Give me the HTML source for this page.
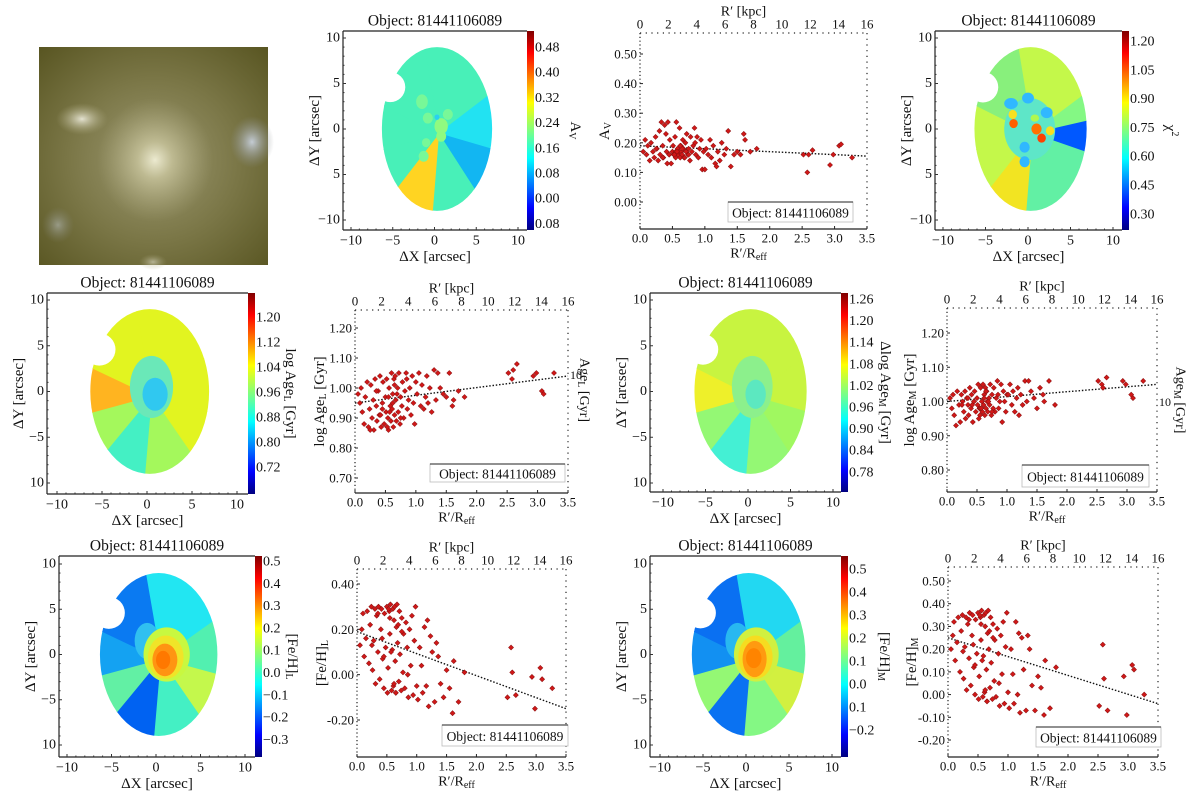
<!DOCTYPE html>
<html><head><meta charset="utf-8"><style>
html,body{margin:0;padding:0;background:#fff;overflow:hidden;}
svg{display:block;font-family:"Liberation Serif","DejaVu Serif",serif;}
</style></head><body>
<svg id="fig" width="1200" height="802" viewBox="0 0 1200 802" xmlns="http://www.w3.org/2000/svg">
<defs>
<linearGradient id="jet" x1="0" y1="1" x2="0" y2="0">
<stop offset="0" stop-color="#00007f"/><stop offset="0.11" stop-color="#0000ff"/><stop offset="0.36" stop-color="#00ffff"/><stop offset="0.5" stop-color="#80ff80"/><stop offset="0.64" stop-color="#ffff00"/><stop offset="0.89" stop-color="#ff0000"/><stop offset="1" stop-color="#7f0000"/>
</linearGradient>
<radialGradient id="galbase" cx="0.5" cy="0.52" r="0.75"><stop offset="0" stop-color="#9c9870"/><stop offset="0.5" stop-color="#7a7646"/><stop offset="1" stop-color="#55521e"/></radialGradient>
<radialGradient id="core" cx="0.5" cy="0.5" r="0.5"><stop offset="0" stop-color="#ecead0"/><stop offset="0.3" stop-color="#c8c49c" stop-opacity="0.8"/><stop offset="1" stop-color="#a8a47a" stop-opacity="0"/></radialGradient>
<radialGradient id="blobw" cx="0.5" cy="0.5" r="0.5"><stop offset="0" stop-color="#e4e2d0"/><stop offset="1" stop-color="#a8a47a" stop-opacity="0"/></radialGradient>
<radialGradient id="blobb" cx="0.5" cy="0.5" r="0.5"><stop offset="0" stop-color="#c4ccd4"/><stop offset="1" stop-color="#8c9090" stop-opacity="0"/></radialGradient>
</defs>
<g>
<rect x="39" y="47" width="229" height="218" fill="url(#galbase)"/>
<ellipse cx="155" cy="160" rx="58" ry="62" fill="url(#core)"/>
<ellipse cx="82" cy="119" rx="26" ry="16" fill="url(#blobw)"/>
<ellipse cx="252" cy="142" rx="22" ry="26" fill="url(#blobb)"/>
<ellipse cx="58" cy="225" rx="16" ry="18" fill="url(#blobb)" opacity="0.5"/>
<ellipse cx="153" cy="262" rx="14" ry="8" fill="url(#blobw)" opacity="0.6"/>
</g>
</svg>
<script>
// ---------- scatter data (shared radii R'/Reff) ----------
const RADII = [0.05,0.08,0.1,0.12,0.15,0.17,0.2,0.22,0.24,0.26,0.28,0.3,0.31,0.33,0.35,0.36,0.38,0.4,0.41,0.43,0.45,0.46,0.48,0.5,0.51,0.52,0.54,0.55,0.56,0.58,0.59,0.6,0.61,0.62,0.63,0.64,0.65,0.66,0.67,0.68,0.7,0.71,0.72,0.74,0.75,0.77,0.78,0.8,0.82,0.84,0.86,0.88,0.9,0.92,0.94,0.96,0.98,1.0,0.25,0.35,0.45,0.55,0.65,0.75,0.85,0.42,0.53,0.62,0.69,0.57,
1.02,1.05,1.08,1.1,1.13,1.16,1.18,1.2,1.23,1.26,1.3,1.33,1.36,1.4,1.45,1.5,1.55,1.6,1.62,1.7,1.8,
2.52,2.58,2.60,2.66,2.93,2.98,3.07,3.10,3.27];
const AV = [0.17,0.21,0.16,0.19,0.14,0.20,0.17,0.15,0.22,0.18,0.14,0.24,0.16,0.27,0.19,0.15,0.26,0.23,0.17,0.27,0.16,0.21,0.13,0.17,0.19,0.16,0.22,0.15,0.27,0.18,0.16,0.17,0.25,0.15,0.19,0.17,0.16,0.21,0.18,0.15,0.20,0.17,0.23,0.16,0.18,0.14,0.22,0.17,0.19,0.25,0.16,0.22,0.15,0.18,0.21,0.11,0.17,0.11,0.18,0.15,0.16,0.17,0.18,0.16,0.20,0.13,0.16,0.19,0.15,0.17,
0.18,0.16,0.21,0.15,0.19,0.13,0.12,0.17,0.14,0.20,0.16,0.18,0.24,0.12,0.16,0.17,0.16,0.23,0.21,0.17,0.18,
0.16,0.10,0.16,0.175,0.125,0.16,0.19,0.195,0.15];
const AGEL = [0.98,0.95,1.00,0.92,0.88,0.97,1.02,0.87,0.93,1.01,0.90,0.96,0.86,1.03,0.94,0.89,0.99,0.91,1.04,0.87,0.95,1.02,0.88,0.97,0.92,1.03,0.90,0.86,1.00,0.94,0.89,1.05,0.93,0.98,0.87,1.03,0.91,1.04,0.96,0.89,1.00,0.92,1.05,0.88,0.97,0.94,1.02,0.90,0.99,1.05,0.93,0.96,1.00,0.91,1.04,0.95,0.88,1.02,0.86,0.99,0.93,0.97,1.01,0.90,1.03,0.91,0.87,0.95,0.98,0.92,
0.98,1.05,0.94,1.01,0.93,0.97,1.04,0.95,1.00,0.92,1.06,0.96,1.05,1.00,0.98,0.97,1.05,0.94,0.96,0.99,0.97,
1.05,1.03,1.06,1.08,1.04,1.05,0.99,0.98,1.05];
const AGEM = [1.01,0.98,1.02,0.96,0.93,1.03,0.99,0.94,1.02,1.00,0.97,1.03,0.95,1.01,0.99,0.96,1.04,0.98,1.02,0.94,1.00,1.03,0.97,1.01,0.99,1.05,0.98,0.96,1.04,1.00,0.97,1.05,0.99,1.02,0.96,1.04,0.98,1.03,1.00,0.97,1.01,0.99,1.05,0.96,1.02,0.98,1.04,0.97,1.01,1.06,0.98,1.00,1.05,0.94,1.03,1.00,0.97,1.02,0.99,1.01,1.00,0.98,1.03,0.97,1.02,0.99,0.95,1.01,1.00,0.98,
1.02,1.05,0.99,1.03,0.97,1.01,1.04,0.96,1.02,0.99,1.06,1.00,1.06,1.03,1.01,0.98,1.04,1.02,1.00,1.06,0.99,
1.06,1.05,1.04,1.07,1.06,1.05,1.02,1.01,1.06];
const FEHL = [0.13,0.20,0.27,0.08,0.16,0.28,0.05,0.22,0.30,0.02,0.15,0.29,-0.04,0.26,0.10,0.30,-0.02,0.20,0.29,0.07,-0.06,0.27,0.12,0.30,-0.08,0.03,0.28,0.18,0.31,-0.07,0.11,0.29,-0.05,0.24,0.30,0.06,-0.08,0.21,0.31,0.14,-0.03,0.28,0.09,-0.07,0.25,0.01,0.18,-0.06,0.23,0.12,-0.10,0.20,0.04,0.26,-0.09,0.15,0.30,-0.05,0.13,0.27,0.08,0.25,-0.08,0.19,0.00,0.16,0.29,-0.04,0.22,0.10,
-0.11,0.12,0.04,-0.08,0.21,-0.05,0.24,-0.14,0.17,0.10,-0.12,0.14,0.08,-0.04,-0.10,0.02,-0.06,-0.17,0.06,-0.12,0.01,
-0.10,0.12,0.01,-0.09,-0.01,-0.15,0.03,-0.02,-0.06];
const FEHM = [0.20,0.26,0.32,0.15,0.23,0.34,0.10,0.28,0.35,0.07,0.21,0.34,0.02,0.31,0.16,0.36,0.04,0.26,0.35,0.12,0.00,0.33,0.18,0.36,-0.02,0.08,0.34,0.24,0.37,-0.01,0.17,0.35,0.01,0.30,0.36,0.11,-0.03,0.27,0.37,0.20,0.03,0.34,0.14,-0.02,0.31,0.06,0.24,-0.01,0.29,0.18,-0.05,0.26,0.09,0.32,-0.04,0.21,0.36,0.01,0.19,0.33,0.13,0.31,-0.03,0.25,0.05,0.22,0.35,0.02,0.28,0.15,
-0.06,0.20,0.09,-0.04,0.32,0.00,0.27,-0.08,0.25,0.11,-0.07,0.26,0.20,0.04,-0.07,0.08,0.03,-0.09,0.15,-0.06,0.12,
-0.05,0.22,0.07,-0.07,0.08,-0.09,0.13,0.11,0.00];
const FIT_R = [0, 3.5];
const AV_FIT = [0.19, 0.155];
const AGEL_FIT = [0.95, 1.04];
const AGEM_FIT = [1.00, 1.05];
const FEHL_FIT = [0.19, -0.15];
const FEHM_FIT = [0.25, -0.04];
const X_TICKS = [0.0,0.5,1.0,1.5,2.0,2.5,3.0,3.5];
const KPC_TICKS = [0,2,4,6,8,10,12,14,16];
const AV_TICKS = [0.00,0.10,0.20,0.30,0.40,0.50];
const AGEL_TICKS = [0.70,0.80,0.90,1.00,1.10,1.20];
const AGEM_TICKS = [0.80,0.90,1.00,1.10,1.20];
const FEHL_TICKS = [-0.20,0.00,0.20,0.40];
const FEHM_TICKS = [-0.20,-0.10,0.00,0.10,0.20,0.30,0.40,0.50];
const MAP_X_TICKS = [-10,-5,0,5,10];
const CB_AV = ['0.48','0.40','0.32','0.24','0.16','0.08','0.00','0.08'];
const CB_CHI = ['1.20','1.05','0.90','0.75','0.60','0.45','0.30'];
const CB_AGEL = ['1.20','1.12','1.04','0.96','0.88','0.80','0.72'];
const CB_AGEM = ['1.26','1.20','1.14','1.08','1.02','0.96','0.90','0.84','0.78'];
const CB_FEHL = ['0.5','0.4','0.3','0.2','0.1','0.0','\u22120.1','\u22120.2','\u22120.3'];
const CB_FEHM = ['0.5','0.4','0.3','0.2','0.1','0.0','0.1','\u22120.2'];

const svg = document.getElementById('fig');
const NS = 'http://www.w3.org/2000/svg';
function mk(tag, attrs, parent){ const e=document.createElementNS(NS,tag); for(const k in attrs) e.setAttribute(k,attrs[k]); (parent||svg).appendChild(e); return e; }
function named(e, n){
  
  
  return e;
}
function txt(x,y,s,size,anchor,parent,name,extra){ const t=mk('text',Object.assign({x:x,y:y,'font-size':size,'text-anchor':anchor||'middle','dominant-baseline':'central',fill:'#111'},extra||{}),parent); t.textContent=s; named(t,name); return t; }
function fmt(v){ return (v<0?'-':'')+Math.abs(v).toFixed(2); }

// ---------- scatter panels ----------
function scatter(c){
  const g=mk('g',{}); named(g,c.name);
  const xs=v=>c.x0+(v/3.5)*(c.x1-c.x0);
  const ks=v=>c.x0+(v/16)*(c.x1-c.x0);
  const ys=v=>c.ya+(v-c.va)*(c.yb-c.ya)/(c.vb-c.va);
  const l1=mk('line',{x1:c.x0,y1:c.top,x2:c.x0,y2:c.bot,stroke:'#222','stroke-width':1.2,'stroke-dasharray':'1.2,2.6'},g); named(l1,'y-axis-line');
  const l2=mk('line',{x1:c.x0,y1:c.bot,x2:c.x1,y2:c.bot,stroke:'#222','stroke-width':1.2},g); named(l2,'x-axis-line');
  const l3=mk('line',{x1:c.x0,y1:c.top,x2:c.x1,y2:c.top,stroke:'#222','stroke-width':1.2,'stroke-dasharray':'1.2,4.5'},g); named(l3,'top-axis-line');
  const l4=mk('line',{x1:c.x1,y1:c.top,x2:c.x1,y2:c.bot,stroke:'#222','stroke-width':1.2,'stroke-dasharray':'1.2,4.5'},g); named(l4,'right-axis-line');
  X_TICKS.forEach(v=>{ txt(xs(v),c.bot+9,v.toFixed(1),13,'middle',g,'x-tick-label'); const t=mk('line',{x1:xs(v),y1:c.bot,x2:xs(v),y2:c.bot-3,stroke:'#222'},g); named(t,'x-tick'); });
  KPC_TICKS.forEach(v=>{ txt(ks(v),c.top-9,String(v),13,'middle',g,'kpc-tick-label'); });
  txt((c.x0+c.x1)/2-10,c.top-21,"R\u2032 [kpc]",14,'middle',g,'top-axis-title');
  c.ticks.forEach(v=>{ txt(c.x0-3,ys(v),fmt(v),13,'end',g,'y-tick-label'); const t=mk('line',{x1:c.x0,y1:ys(v),x2:c.x0+3,y2:ys(v),stroke:'#222'},g); named(t,'y-tick'); });
  const xt=txt((c.x0+c.x1)/2-5,c.bot+25,'',14,'middle',g,'x-axis-title');
  xt.innerHTML="R\u2032/R<tspan font-size='10' dy='3'>eff</tspan>";
  const yt=txt(c.ylx,(c.top+c.bot)/2,'',15,'middle',g,'y-axis-title',{transform:'rotate(-90 '+c.ylx+' '+((c.top+c.bot)/2)+')'});
  yt.innerHTML=c.ylabel;
  const fl=mk('line',{x1:xs(FIT_R[0]),y1:ys(c.fit[0]),x2:xs(FIT_R[1]),y2:ys(c.fit[1]),stroke:'#111','stroke-width':1.4,'stroke-dasharray':'1.5,1.8'},g); named(fl,'fit-line');
  c.ys.forEach((v,i)=>{ const px=xs(RADII[i]), py=ys(v);
    const p=mk('rect',{x:px-1.8,y:py-1.8,width:3.6,height:3.6,fill:'#d01818',stroke:'#8a1010','stroke-width':0.5,transform:'rotate(45 '+px+' '+py+')'},g);
    named(p,'data-point'); });
  const lg=mk('g',{},g); named(lg,'legend');
  const lb=mk('rect',{x:c.lg[0],y:c.lg[1],width:c.lg[2],height:c.lg[3],fill:'#fff',stroke:'#bbb','stroke-width':0.8},lg); named(lb,'legend-box');
  const ll=mk('line',{x1:c.lg[0],y1:c.lg[1],x2:c.lg[0]+c.lg[2],y2:c.lg[1],stroke:'#222','stroke-width':1},lg); named(ll,'legend-line');
  txt(c.lg[0]+c.lg[2]/2,c.lg[1]+c.lg[3]/2+1,'Object: 81441106089',13.5,'middle',lg,'legend-text');
  if(c.right){ txt(c.x1+2,c.right[1],'10',12,'start',g,'right-tick-label');
    const rt=txt(c.right[0],c.right[2],'',14,'middle',g,'right-axis-title',{transform:'rotate(90 '+c.right[0]+' '+c.right[2]+')'});
    rt.innerHTML=c.right[3]; }
}
scatter({name:'av-profile',x0:640,x1:867,top:33,bot:229,va:0.5,ya:54,vb:0,yb:202,ticks:AV_TICKS,ys:AV,fit:AV_FIT,ylx:605,ylabel:"A<tspan font-size='10' dy='3'>V</tspan>",lg:[728,202,125,20]});
scatter({name:'age-l-profile',x0:355,x1:568,top:310,bot:493,va:1.2,ya:328,vb:0.7,yb:478,ticks:AGEL_TICKS,ys:AGEL,fit:AGEL_FIT,ylx:320,ylabel:"log Age<tspan font-size='10' dy='3'>L</tspan><tspan dy='-3'> [Gyr]</tspan>",lg:[430,464,135,18],right:[584,375,390,"Age<tspan font-size='10' dy='3'>L</tspan><tspan dy='-3'> [Gyr]</tspan>"]});
scatter({name:'age-m-profile',x0:947,x1:1157,top:308,bot:492,va:1.2,ya:333,vb:0.8,yb:470,ticks:AGEM_TICKS,ys:AGEM,fit:AGEM_FIT,ylx:910,ylabel:"log Age<tspan font-size='10' dy='3'>M</tspan><tspan dy='-3'> [Gyr]</tspan>",lg:[1022,465,127,22],right:[1180,402,400,"Age<tspan font-size='10' dy='3'>M</tspan><tspan dy='-3'> [Gyr]</tspan>"]});
scatter({name:'feh-l-profile',x0:357,x1:566,top:569,bot:757,va:0.4,ya:584,vb:-0.2,yb:720,ticks:FEHL_TICKS,ys:FEHL,fit:FEHL_FIT,ylx:322,ylabel:"[Fe/H]<tspan font-size='10' dy='3'>L</tspan>",lg:[442,725,126,21]});
scatter({name:'feh-m-profile',x0:948,x1:1158,top:567,bot:757,va:0.5,ya:581,vb:-0.2,yb:740,ticks:FEHM_TICKS,ys:FEHM,fit:FEHM_FIT,ylx:912,ylabel:"[Fe/H]<tspan font-size='10' dy='3'>M</tspan>",lg:[1036,727,125,20]});

// ---------- maps ----------
function map(c){
  const g=mk('g',{}); named(g,c.name);
  const sx=v=>c.xm+(v+10)*(c.xp-c.xm)/20;
  const sy=v=>c.ytop+(10-v)*(c.ybot-c.ytop)/20;
  const id='clip'+c.name;
  const cp=mk('clipPath',{id:id},g);
  mk('ellipse',{cx:sx(0.3),cy:sy(0),rx:6.6*(c.xp-c.xm)/20,ry:9.0*(c.ybot-c.ytop)/20},cp);
  const inner=mk('g',{'clip-path':'url(#'+id+')'},g); named(inner,'map-image');
  const cx0=0.5, cy0=-0.5;
  c.sectors.forEach(s=>{ let pts=[[sx(cx0),sy(cy0)]];
    const angs=[]; for(let a=s[0];a<s[1];a+=5) angs.push(a); angs.push(s[1]);
    angs.forEach(a=>{ const r=a*Math.PI/180; pts.push([sx(cx0+30*Math.cos(r)),sy(cy0+30*Math.sin(r))]); });
    const p=mk('polygon',{points:pts.map(q=>q.join(',')).join(' '),fill:s[2],stroke:s[2],'stroke-width':0.8},inner); named(p,'map-sector'); });
  c.blobs.forEach(b=>{ const e=mk('ellipse',{cx:sx(b[0]),cy:sy(b[1]),rx:b[2]*(c.xp-c.xm)/20,ry:b[3]*(c.ybot-c.ytop)/20,fill:b[4]},inner); named(e,'map-spaxel'); });
  const notch=mk('circle',{cx:sx(-5.3),cy:sy(4.6),r:1.8*(c.xp-c.xm)/20,fill:'#fff'},g); named(notch,'mask-notch');
  const a1=mk('line',{x1:c.left,y1:c.top,x2:c.left,y2:c.bot,stroke:'#222','stroke-width':1.2},g); named(a1,'y-axis-line');
  const a2=mk('line',{x1:c.left,y1:c.bot,x2:c.right,y2:c.bot,stroke:'#222','stroke-width':1.2},g); named(a2,'x-axis-line');
  const a3=mk('line',{x1:c.left,y1:c.top,x2:c.right,y2:c.top,stroke:'#222','stroke-width':1.2},g); named(a3,'top-axis-line');
  for(let v=-10;v<=10;v+=1){ const m=mk('line',{x1:c.left,y1:sy(v),x2:c.left+(v%5===0?3:1.5),y2:sy(v),stroke:'#333','stroke-width':1},g); named(m,'y-tick');
    const n=mk('line',{x1:sx(v),y1:c.bot,x2:sx(v),y2:c.bot-(v%5===0?3:1.5),stroke:'#333','stroke-width':1},g); named(n,'x-tick'); }
  MAP_X_TICKS.forEach(v=>txt(sx(v),c.bot+11,(v<0?'\u2212':'')+Math.abs(v),14,'middle',g,'x-tick-label'));
  c.yt.forEach((s,i)=>txt(c.left-3,sy(10-5*i),s,14,'end',g,'y-tick-label'));
  txt((c.left+c.right)/2,c.bot+27,'\u0394X [arcsec]',15,'middle',g,'x-axis-title');
  const yl=c.left-28, ym=(c.top+c.bot)/2;
  txt(yl,ym,'\u0394Y [arcsec]',15,'middle',g,'y-axis-title',{transform:'rotate(-90 '+yl+' '+ym+')'});
  txt((c.left+c.right)/2,c.top-10,'Object: 81441106089',15.5,'middle',g,'map-title');
  const cb=mk('rect',{x:c.right,y:c.top,width:7,height:c.bot-c.top,fill:'url(#jet)'},g); named(cb,'colorbar');
  c.cb.forEach((s,i)=>txt(c.right+8,c.cb0+i*c.cbs,s,14,'start',g,'colorbar-tick-label'));
  const lx=c.cblx, lyy=(c.top+c.bot)/2;
  const ct=txt(lx,lyy,'',15,'middle',g,'colorbar-title',{transform:'rotate(90 '+lx+' '+lyy+')'});
  ct.innerHTML=c.cbl;
}
const YT1=['10','5','0','5','\u221210'], YT2=['10','5','0','\u22125','10'];
map({name:'av-map',left:343,right:527,top:31,bot:230,xm:351,xp:518,ytop:38,ybot:220,yt:YT1,cb:CB_AV,cb0:48,cbs:25.2,cblx:575,cbl:"A<tspan font-size='10' dy='3'>V</tspan>",
 sectors:[[35,100,'#48f0b8'],[-15,35,'#22e2f2'],[-55,-15,'#12b6f2'],[-95,-55,'#48f0b8'],[-130,-95,'#ffd422'],[-165,-130,'#48f0b8'],[155,195,'#48f0b8'],[100,155,'#48f0b8']],
 blobs:[[-1.5,3,0.7,0.8,'#78f898'],[-0.8,1.2,0.6,0.6,'#78f898'],[0.8,0.3,0.8,0.9,'#90fa80'],[0.8,-0.8,0.6,0.6,'#90fa80'],[-1,-1.5,0.5,0.5,'#78f898'],[-1.3,-3,0.6,0.6,'#78f898'],[1.6,1.6,0.6,0.6,'#78f898'],[0.3,1.3,0.3,0.3,'#2ad0f0']]});
map({name:'chi2-map',left:935,right:1122,top:31,bot:230,xm:943,xp:1113,ytop:38,ybot:220,yt:YT1,cb:CB_CHI,cb0:42,cbs:28.8,cblx:1170,cbl:"\u03c7<tspan font-size='10' dy='-5'>2</tspan>",
 sectors:[[35,100,'#c4f84a'],[12,35,'#84f884'],[-18,12,'#0058ff'],[-55,-18,'#62f0a4'],[-95,-55,'#62f0a4'],[-130,-95,'#f2e422'],[-165,-130,'#c4f84a'],[155,195,'#c4f84a'],[100,155,'#88f07c']],
 blobs:[[0.2,0,3.0,3.4,'#5ee6c8'],[-2,2.8,0.8,0.6,'#30b8ff'],[0,3.4,0.7,0.6,'#30b8ff'],[2.2,1.8,0.7,0.6,'#30b8ff'],[-0.4,-2,0.6,0.6,'#30b8ff'],[-0.4,-3.6,0.6,0.6,'#30b8ff'],[1,0,0.6,0.6,'#ff7000'],[-1.7,0.6,0.5,0.5,'#ff6000'],[1.6,-1,0.5,0.5,'#ff4000'],[-1.8,1.6,0.5,0.5,'#f8e020'],[2.6,-0.2,0.5,0.5,'#f8e020'],[0.8,1.2,0.5,0.4,'#b0f850']]});
map({name:'age-l-map',left:47,right:248,top:293,bot:494,xm:57,xp:237,ytop:300,ybot:483,yt:YT2,cb:CB_AGEL,cb0:318,cbs:25,cblx:290,cbl:"log Age<tspan font-size='10' dy='3'>L</tspan><tspan dy='-3'> [Gyr]</tspan>",
 sectors:[[35,100,'#e2f420'],[-15,35,'#e2f420'],[-55,-15,'#e2f420'],[-95,-55,'#a4f85c'],[-130,-95,'#44f0c4'],[-165,-130,'#a4f85c'],[155,195,'#ffb420'],[100,155,'#e2f420']],
 blobs:[[0.5,0.5,2.4,3.4,'#6ae8b8'],[0.9,-0.3,1.4,1.8,'#30c8f0']]});
map({name:'age-m-map',left:650,right:841,top:293,bot:492,xm:663,xp:833,ytop:300,ybot:483,yt:YT2,cb:CB_AGEM,cb0:300,cbs:21.6,cblx:885,cbl:"\u0394log Age<tspan font-size='10' dy='3'>M</tspan><tspan dy='-3'> [Gyr]</tspan>",
 sectors:[[35,100,'#c8f440'],[-15,35,'#c8f440'],[-55,-15,'#a0f860'],[-95,-55,'#94f874'],[-130,-95,'#44f0d4'],[-165,-130,'#94f874'],[155,195,'#eef02a'],[100,155,'#c8f440']],
 blobs:[[0.5,0.5,2.4,3.4,'#8cf08c'],[0.9,-0.3,1.2,1.6,'#5ce8c0']]});
map({name:'feh-l-map',left:59,right:255,top:556,bot:757,xm:67,xp:245,ytop:564,ybot:745,yt:YT2,cb:CB_FEHL,cb0:562,cbs:22.3,cblx:292,cbl:"[Fe/H]<tspan font-size='10' dy='3'>L</tspan>",
 sectors:[[35,100,'#22e6f2'],[-15,35,'#52f0b0'],[-55,-15,'#c4f84c'],[-95,-55,'#44f0c4'],[-130,-95,'#0062f2'],[-165,-130,'#62f0a4'],[155,195,'#14a2f2'],[100,155,'#0a7af2']],
 blobs:[[-1,1.5,1.4,2.0,'#30c0f0'],[1.2,0,2.6,3.0,'#c8f840'],[1.1,-0.3,2.0,2.4,'#f0e428'],[1,-0.6,1.4,1.8,'#ff9412'],[0.8,-0.6,0.8,1.0,'#ff7800']]});
map({name:'feh-m-map',left:650,right:841,top:556,bot:757,xm:660,xp:832,ytop:564,ybot:745,yt:YT2,cb:CB_FEHM,cb0:570,cbs:23.0,cblx:884,cbl:"[Fe/H]<tspan font-size='10' dy='3'>M</tspan>",
 sectors:[[35,100,'#22d8f2'],[-15,35,'#64f09e'],[-55,-15,'#d2f040'],[-95,-55,'#84f884'],[-130,-95,'#0a72f2'],[-165,-130,'#94f874'],[155,195,'#1290f2'],[100,155,'#0a70f2']],
 blobs:[[-1,1.5,1.4,2.0,'#28b8f0'],[1.2,0,2.6,3.0,'#d0f040'],[1.1,-0.3,2.0,2.4,'#f6dc20'],[1,-0.5,1.4,2.0,'#ff9a10'],[0.9,-0.4,0.9,1.1,'#ff8400']]});
</script>
</body></html>
